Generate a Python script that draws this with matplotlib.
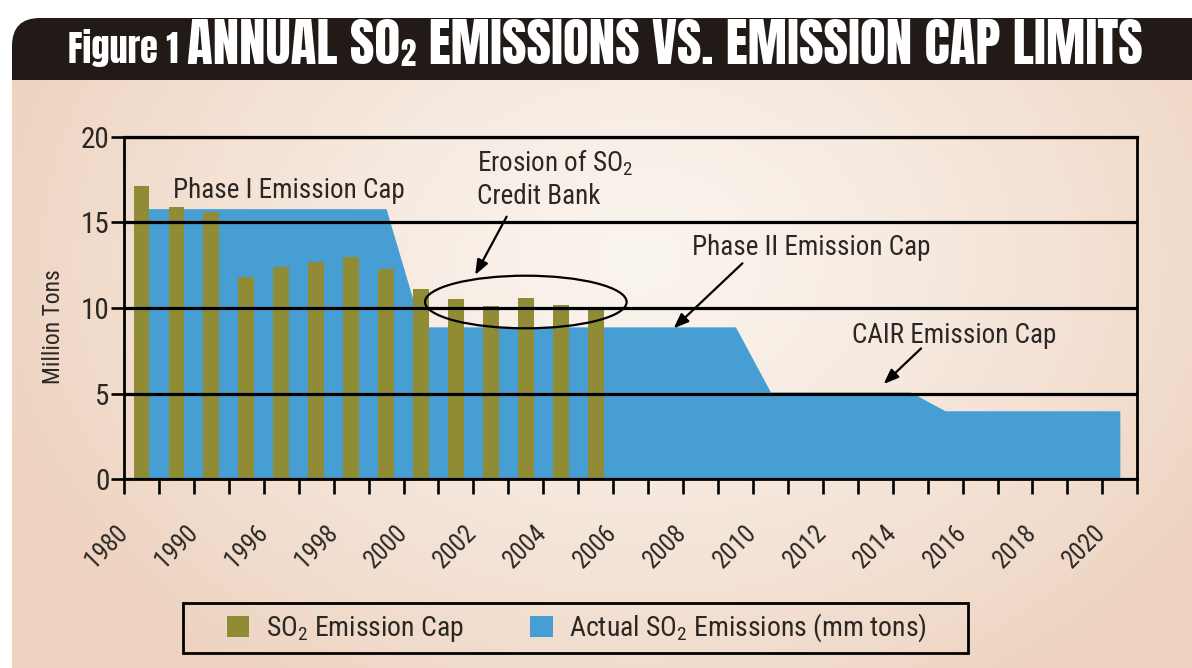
import numpy as np
import matplotlib
matplotlib.use("Agg")
import matplotlib.pyplot as plt
from matplotlib import font_manager
from matplotlib.patches import Ellipse, FancyBboxPatch, Rectangle, Patch

# ---------------- data ----------------
# one slot per category along the x axis (29 slots, labels on every other boundary)
tick_labels = ["1980", "1990", "1996", "1998", "2000", "2002", "2004", "2006",
               "2008", "2010", "2012", "2014", "2016", "2018", "2020"]
n_slots = 29

# olive bars, million tons
cap_values = [17.1, 15.9, 15.6, 11.8, 12.4, 12.7, 13.0, 12.3, 11.1, 10.5,
              10.1, 10.6, 10.2, 9.9]

# blue area, million tons (one value per slot)
actual_values = [15.8, 15.8, 15.8, 15.8, 15.8, 15.8, 15.8, 15.8,
                 8.9, 8.9, 8.9, 8.9, 8.9, 8.9, 8.9, 8.9, 8.9, 8.9,
                 5.1, 5.1, 5.1, 5.1, 5.1,
                 4.0, 4.0, 4.0, 4.0, 4.0, 4.0]

OLIVE = "#8f8c35"
BLUE = "#479ed3"
BANNER = "#221a16"
TXT = "#2b2724"


# ---------------- fonts ----------------
def first_font(candidates):
    names = {f.name for f in font_manager.fontManager.ttflist}
    for c in candidates:
        if c in names:
            return c
    return "DejaVu Sans"


BODY = first_font(["Roboto Condensed", "Archivo Narrow", "PT Sans Narrow",
                   "Liberation Sans Narrow", "Open Sans Condensed"])
HEAD = first_font(["Anton", "Fjalla One", "Oswald", "Roboto Condensed", BODY])

plt.rcParams["font.family"] = [BODY, "DejaVu Sans"]
plt.rcParams["mathtext.fontset"] = "custom"
plt.rcParams["mathtext.rm"] = BODY
plt.rcParams["mathtext.it"] = BODY
plt.rcParams["mathtext.bf"] = BODY

W, H = 1192, 668
fig = plt.figure(figsize=(W / 100, H / 100), dpi=100, facecolor="white")

# ---------------- background panel ----------------
bg = fig.add_axes([0, 0, 1, 1], zorder=0)
bg.set_xlim(0, W)
bg.set_ylim(H, 0)
bg.axis("off")

bg.add_patch(FancyBboxPatch((12, 18), 1400, 140,
                            boxstyle="round,pad=0,rounding_size=28",
                            fc=BANNER, ec="none", zorder=1))

gx = np.linspace(12, W, 600)
gy = np.linspace(80, H, 300)
GX, GY = np.meshgrid(gx, gy)
d = np.sqrt(((GX - 640) / 680) ** 2 + ((GY - 260) / 520) ** 2)
t = np.clip(d, 0, 1) ** 1.3
light = np.array([250, 244, 238]) / 255
edge = np.array([238, 211, 192]) / 255
img = light[None, None, :] * (1 - t[..., None]) + edge[None, None, :] * t[..., None]
bg.imshow(img, extent=(12, W, H, 80), aspect="auto", interpolation="bilinear",
          origin="upper", zorder=2)

fig_label = bg.text(68, 63, "Figure 1", color="white", fontsize=22,
                    family=[HEAD, "DejaVu Sans"], ha="left", va="baseline",
                    zorder=3)
title = bg.text(187, 64, "ANNUAL SO\u2082 EMISSIONS VS. EMISSION CAP LIMITS",
                color="white", fontsize=34, family=[HEAD, "DejaVu Sans"],
                ha="left", va="baseline", zorder=3)

# ---------------- chart ----------------
ax = fig.add_axes([124 / W, (H - 479.3) / H, 1013.3 / W, 342.6 / H], zorder=1)
ax.patch.set_alpha(0)

x_actual = np.arange(len(actual_values)) + 0.5
ax.fill_between(x_actual, 0, actual_values, color=BLUE, lw=0, zorder=1)
x_cap = np.arange(len(cap_values)) + 0.5
ax.bar(x_cap, cap_values, width=0.45, color=OLIVE, lw=0, zorder=2)

ax.set_xlim(0, n_slots)
ax.set_ylim(0, 20)
ax.set_axisbelow(False)
ax.grid(axis="y", color="black", lw=2.3)
ax.grid(axis="x", visible=False)

for s in ax.spines.values():
    s.set_color("black")
    s.set_linewidth(2.0)
ax.spines["top"].set_linewidth(2.3)

ax.set_xticks(np.arange(0, n_slots, 2))
ax.set_xticks(np.arange(1, n_slots + 1, 2), minor=True)
ax.set_xticklabels(tick_labels, rotation=45, ha="right", va="center",
                   rotation_mode="anchor", fontsize=18, color=TXT)
ax.tick_params(axis="x", which="both", direction="out", length=11, width=1.9,
               color="black", pad=25)
ax.set_yticks([0, 5, 10, 15, 20])
ax.tick_params(axis="y", direction="out", length=9.5, width=1.9, color="black",
               labelsize=21, labelcolor=TXT, pad=1)
ax.set_ylabel("Million Tons", fontsize=17, color=TXT)
ax.yaxis.set_label_coords(-0.058, 0.445)

# annotations
ann_kw = dict(fontsize=19.5, color=TXT, va="baseline", ha="left", zorder=5)
ax.text(1.41, 16.4, "Phase I Emission Cap", **ann_kw)
ax.text(10.09, 17.96, r"Erosion of SO$_\mathrm{2}$", **ann_kw)
ax.text(10.09, 16.07, "Credit Bank", **ann_kw)
ax.text(16.26, 13.1, "Phase II Emission Cap", **ann_kw)
ax.text(20.84, 7.98, "CAIR Emission Cap", **ann_kw)

arrow_kw = dict(arrowstyle="-|>,head_length=0.9,head_width=0.35", color="black",
                lw=1.6, shrinkA=0, shrinkB=0)
ax.annotate("", xy=(10.05, 11.93), xytext=(10.95, 15.33), arrowprops=arrow_kw,
            zorder=5)
ax.annotate("", xy=(15.73, 8.81), xytext=(17.7, 12.61), arrowprops=arrow_kw,
            zorder=5)
ax.annotate("", xy=(21.74, 5.56), xytext=(22.81, 7.64), arrowprops=arrow_kw,
            zorder=5)

ax.add_patch(Ellipse((11.5, 10.35), 5.77, 3.07, fill=False, ec="black", lw=1.6,
                     zorder=5))

# ---------------- legend ----------------
bg.add_patch(Rectangle((183, 603), 785, 50, fill=False, ec="black", lw=2.0,
                       zorder=3))
handles = [Patch(fc=OLIVE, ec="none"), Patch(fc=BLUE, ec="none")]
fig.legend(handles, [r"SO$_\mathrm{2}$ Emission Cap",
                     r"Actual SO$_\mathrm{2}$ Emissions (mm tons)"],
           loc="center", bbox_to_anchor=(577 / W, 1 - 628 / H), ncol=2,
           frameon=False, fontsize=20, handlelength=0.8, handleheight=0.8,
           handletextpad=0.6, columnspacing=2.4, labelcolor=TXT)

# size the banner texts to their spans
fig.canvas.draw()
renderer = fig.canvas.get_renderer()
for txt, span in ((fig_label, 110), (title, 955)):
    w = txt.get_window_extent(renderer).width
    txt.set_fontsize(txt.get_fontsize() * span / w)

fig.savefig("out.png", dpi=100, facecolor="white")
